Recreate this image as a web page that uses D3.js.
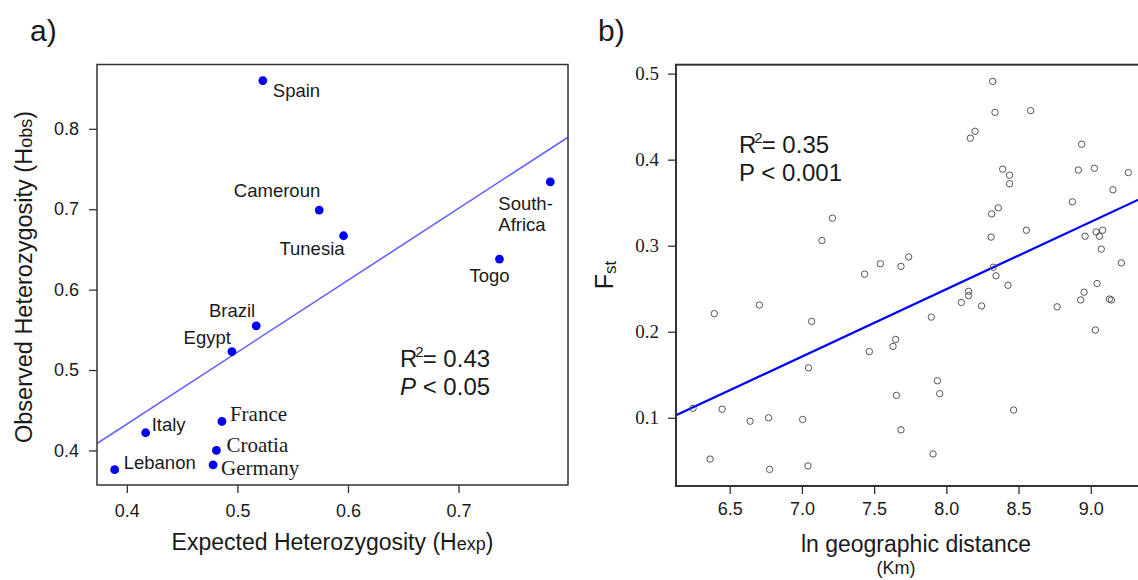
<!DOCTYPE html>
<meta charset="utf-8">
<style>
html,
body {
    margin: 0;
    padding: 0;
    overflow: hidden;
    background: #fff;
}

svg text {
    font-family: "Liberation Sans", Arial, sans-serif;
    fill: #1a1a1a;
}

.tick line {
    stroke: #333;
    stroke-width: 1.3px;
}
</style>
<svg width="1138" height="580"></svg>
<script src="https://d3js.org/d3.v7.min.js"></script>
<script>
// panel a: heterozygosity by country
var countries = ["Spain", "Cameroun", "Tunesia", "Togo", "South-Africa", "Brazil",
    "Egypt", "France", "Italy", "Croatia", "Germany", "Lebanon"];
var hExp = [0.523, 0.574, 0.596, 0.737, 0.783, 0.517, 0.495, 0.486, 0.417, 0.481, 0.478, 0.389];
var hObs = [0.860, 0.699, 0.667, 0.638, 0.734, 0.555, 0.523, 0.436, 0.422, 0.400, 0.382, 0.376];
var ticksA_x = [0.4, 0.5, 0.6, 0.7];
var ticksA_y = [0.4, 0.5, 0.6, 0.7, 0.8];

// panel b: Fst vs ln geographic distance
var lnDist = [8.321, 8.337, 8.584, 8.199, 8.166, 8.937, 8.390, 8.438, 8.438, 8.914,
    9.025, 9.260, 9.154, 8.873, 8.360, 8.314, 8.554, 8.310, 8.961, 9.037,
    9.082, 9.060, 9.073, 7.739, 9.212, 7.686, 7.543, 7.434, 8.325, 8.344,
    8.427, 8.154, 8.154, 8.104, 8.244, 7.896, 9.044, 8.954, 8.930, 9.129,
    9.143, 8.767, 9.032, 7.649, 7.631, 7.938, 7.954, 7.654, 8.466, 7.686,
    7.908, 7.211, 7.139, 6.393, 6.705, 7.067, 7.467, 7.046, 6.246, 6.447,
    6.641, 6.769, 7.005, 6.364, 6.776, 7.042];
var fst = [0.491, 0.455, 0.457, 0.433, 0.425, 0.418, 0.389, 0.382, 0.372, 0.388,
    0.390, 0.385, 0.365, 0.351, 0.344, 0.337, 0.318, 0.310, 0.311, 0.316,
    0.318, 0.311, 0.296, 0.287, 0.280, 0.276, 0.279, 0.267, 0.275, 0.265,
    0.254, 0.247, 0.242, 0.234, 0.230, 0.217, 0.256, 0.246, 0.237, 0.238,
    0.237, 0.229, 0.202, 0.191, 0.183, 0.143, 0.128, 0.126, 0.109, 0.086,
    0.058, 0.332, 0.306, 0.221, 0.231, 0.212, 0.177, 0.158, 0.111, 0.110,
    0.096, 0.100, 0.098, 0.052, 0.040, 0.044];
var ticksB_x = [6.5, 7.0, 7.5, 8.0, 8.5, 9.0];
var ticksB_y = [0.1, 0.2, 0.3, 0.4, 0.5];

// where each country label sits relative to its dot
var labelPos = {
    "Spain": [10, 16, "start"],
    "Cameroun": [1, -13, "end"],
    "Tunesia": [1, 19, "end"],
    "Togo": [-10, 23, "middle"],
    "South-Africa": [-52, 28, "start"],
    "Brazil": [-1, -9, "end"],
    "Egypt": [-1, -8, "end"],
    "France": [8, 0, "start"],
    "Italy": [6, -2, "start"],
    "Croatia": [10, 2, "start"],
    "Germany": [8, 10, "start"],
    "Lebanon": [9, -1, "start"]
};
var serifLabels = ["France", "Croatia", "Germany"];
var SERIF = '"Liberation Serif", "Times New Roman", serif';

var svg = d3.select("svg");

function fit(xs, ys) {
    var mx = d3.mean(xs), my = d3.mean(ys);
    var sxy = d3.sum(xs, function(x, i) { return (x - mx) * (ys[i] - my); });
    var sxx = d3.sum(xs, function(x) { return (x - mx) * (x - mx); });
    var b = sxy / sxx;
    return { a: my - b * mx, b: b };
}

function styleAxis(g, fontSize, serif) {
    g.select(".domain").remove();
    g.selectAll("text").style("font-size", fontSize + "px").attr("fill", "#1a1a1a");
    if (serif) g.selectAll("text").style("font-family", SERIF);
}

// ---------- panel a ----------
var xa = d3.scaleLinear().domain([0.373, 0.799]).range([97, 568]);
var ya = d3.scaleLinear().domain([0.357, 0.880]).range([485, 64.5]);

svg.append("defs").append("clipPath").attr("id", "clipA")
    .append("rect").attr("x", 97).attr("y", 64.5).attr("width", 471).attr("height", 420.5);

var lineA = fit(hExp, hObs);
svg.append("line")
    .attr("clip-path", "url(#clipA)")
    .attr("x1", xa(0.373)).attr("y1", ya(lineA.a + lineA.b * 0.373))
    .attr("x2", xa(0.799)).attr("y2", ya(lineA.a + lineA.b * 0.799))
    .attr("stroke", "#6464ff")
    .attr("stroke-width", 1.6);

svg.append("g")
    .attr("transform", "translate(0,485)")
    .call(d3.axisBottom(xa).tickValues(ticksA_x).tickSize(8).tickPadding(11).tickFormat(d3.format(".1f")))
    .call(styleAxis, 18);

svg.append("g")
    .attr("transform", "translate(97,0)")
    .call(d3.axisLeft(ya).tickValues(ticksA_y).tickSize(8).tickPadding(10).tickFormat(d3.format(".1f")))
    .call(styleAxis, 18);

svg.append("rect")
    .attr("x", 97).attr("y", 64.5).attr("width", 471).attr("height", 420.5)
    .attr("fill", "none").attr("stroke", "#333").attr("stroke-width", 1.5);

var ptsA = svg.append("g").selectAll("g")
    .data(countries)
    .enter().append("g")
    .attr("transform", function(d, i) {
        return "translate(" + [xa(hExp[i]), ya(hObs[i])] + ")";
    });

ptsA.append("circle")
    .attr("r", 4.4)
    .attr("fill", "#0000ee");

ptsA.append("text")
    .attr("x", function(d) { return labelPos[d][0]; })
    .attr("y", function(d) { return labelPos[d][1]; })
    .attr("text-anchor", function(d) { return labelPos[d][2]; })
    .style("font-family", function(d) { return serifLabels.indexOf(d) >= 0 ? SERIF : null; })
    .style("font-size", function(d) { return serifLabels.indexOf(d) >= 0 ? "21px" : "18.5px"; })
    .each(function(d) {
        var t = d3.select(this);
        if (d === "South-Africa") {
            t.append("tspan").text("South-");
            t.append("tspan").attr("x", labelPos[d][0]).attr("dy", 21).text("Africa");
        } else {
            t.text(d);
        }
    });

// R2 / P annotation a
var annA = svg.append("text").attr("x", 400).attr("y", 367).style("font-size", "24px");
annA.append("tspan").text("R");
annA.append("tspan").attr("dx", -2).attr("dy", -10).style("font-size", "15px").text("2");
annA.append("tspan").attr("dx", -1).attr("dy", 10).text("= 0.43");
var annA2 = svg.append("text").attr("x", 400).attr("y", 395).style("font-size", "24px");
annA2.append("tspan").style("font-style", "italic").text("P");
annA2.append("tspan").text(" < 0.05");

// axis titles a
var xtA = svg.append("text").attr("x", 332.5).attr("y", 550)
    .attr("text-anchor", "middle").style("font-size", "23px");
xtA.append("tspan").text("Expected Heterozygosity (H");
xtA.append("tspan").style("font-size", "18px").text("exp");
xtA.append("tspan").text(")");

var ytA = svg.append("text").attr("transform", "translate(32,277) rotate(-90)")
    .attr("text-anchor", "middle").style("font-size", "23.5px");
ytA.append("tspan").text("Observed Heterozygosity (H");
ytA.append("tspan").style("font-size", "18px").text("obs");
ytA.append("tspan").text(")");

svg.append("text").attr("x", 30).attr("y", 41).style("font-size", "30px").text("a)");

// ---------- panel b ----------
var xb = d3.scaleLinear().domain([6.128, 9.445]).range([676, 1155]);
var yb = d3.scaleLinear().domain([0.0207, 0.5104]).range([486, 64.7]);

svg.select("defs").append("clipPath").attr("id", "clipB")
    .append("rect").attr("x", 676).attr("y", 64.7).attr("width", 479).attr("height", 421.3);

var lineB = fit(lnDist, fst);
svg.append("line")
    .attr("clip-path", "url(#clipB)")
    .attr("x1", xb(6.128)).attr("y1", yb(lineB.a + lineB.b * 6.128))
    .attr("x2", xb(9.445)).attr("y2", yb(lineB.a + lineB.b * 9.445))
    .attr("stroke", "#0000ff")
    .attr("stroke-width", 2.2);

svg.append("g")
    .attr("transform", "translate(0,486)")
    .call(d3.axisBottom(xb).tickValues(ticksB_x).tickSize(8).tickPadding(8).tickFormat(d3.format(".1f")))
    .call(styleAxis, 18);

svg.append("g")
    .attr("transform", "translate(676,0)")
    .call(d3.axisLeft(yb).tickValues(ticksB_y).tickSize(8).tickPadding(9).tickFormat(d3.format(".1f")))
    .call(styleAxis, 19, true);

svg.append("rect")
    .attr("x", 676).attr("y", 64.7).attr("width", 479).attr("height", 421.3)
    .attr("fill", "none").attr("stroke", "#333").attr("stroke-width", 2);

svg.append("g").selectAll("circle")
    .data(fst)
    .enter().append("circle")
    .attr("cx", function(d, i) { return xb(lnDist[i]); })
    .attr("cy", function(d) { return yb(d); })
    .attr("r", 3.2)
    .attr("fill", "none")
    .attr("stroke", "#555")
    .attr("stroke-width", 1);

var annB = svg.append("text").attr("x", 739).attr("y", 153).style("font-size", "24px");
annB.append("tspan").text("R");
annB.append("tspan").attr("dx", -2).attr("dy", -10).style("font-size", "15px").text("2");
annB.append("tspan").attr("dx", -1).attr("dy", 10).text("= 0.35");
svg.append("text").attr("x", 739).attr("y", 181).style("font-size", "24px").text("P < 0.001");

svg.append("text").attr("x", 916).attr("y", 552)
    .attr("text-anchor", "middle").style("font-size", "23px").text("ln geographic distance");
svg.append("text").attr("x", 896).attr("y", 574)
    .attr("text-anchor", "middle").style("font-size", "18px").text("(Km)");

var ytB = svg.append("text").attr("transform", "translate(613,275) rotate(-90)")
    .attr("text-anchor", "middle").style("font-size", "25px");
ytB.append("tspan").text("F");
ytB.append("tspan").attr("dy", 3).style("font-size", "17px").text("st");

svg.append("text").attr("x", 598).attr("y", 41).style("font-size", "30px").text("b)");
</script>
